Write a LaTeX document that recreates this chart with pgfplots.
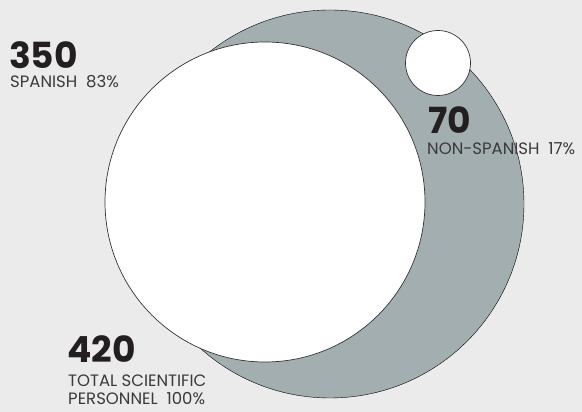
\documentclass[border=0pt]{standalone}
\usepackage{pgfplots}
\pgfplotsset{compat=1.18}
\usepackage{fontspec}
\setmainfont{Poppins}
\definecolor{bg}{HTML}{EBEBEB}
\definecolor{ring}{HTML}{A2AEB0}
\definecolor{txt}{HTML}{231F20}
\definecolor{lbl}{HTML}{3A3A3A}
\tikzset{
  big/.style={anchor=base west, inner sep=0pt, text=txt, text depth=0pt, font=\fontsize{36}{36}\selectfont\bfseries},
  small/.style={anchor=base west, inner sep=0pt, text=lbl, text height=11pt, text depth=0pt, font=\fontsize{16.5}{16.5}\selectfont},
}
\begin{document}
\begin{tikzpicture}
\begin{axis}[
  scale only axis, width=582pt, height=412pt,
  xmin=0, xmax=582, ymin=0, ymax=412, y dir=reverse,
  hide axis, clip=false, set layers=standard,
]
% background
\addplot[fill=bg, draw=none] coordinates {(0,0) (582,0) (582,412) (0,412)} -- cycle;
% total (420)
\addplot[only marks, mark=*, mark size=194pt, mark options={fill=ring, draw=none}] coordinates {(330,204)};
% spanish (350)
\addplot[only marks, mark=*, mark size=160pt, mark options={fill=white, draw=black!80, line width=0.7pt}] coordinates {(265,202)};
% non-spanish (70)
\addplot[only marks, mark=*, mark size=32.5pt, mark options={fill=white, draw=black!80, line width=0.7pt}] coordinates {(438,63)};

\begin{pgfonlayer}{axis foreground}
\node[big] at (axis cs:9,69) {350};
\node[small] at (axis cs:10,88) {SPANISH\ \ 83\%};

\node[big] at (axis cs:428,134) {70};
\node[small] at (axis cs:427,155) {NON-SPANISH\ \ 17\%};

\node[big] at (axis cs:67,363) {420};
\node[small] at (axis cs:68,387) {TOTAL SCIENTIFIC};
\node[small] at (axis cs:68,405) {PERSONNEL\ \ 100\%};
\end{pgfonlayer}
\end{axis}
\end{tikzpicture}
\end{document}
